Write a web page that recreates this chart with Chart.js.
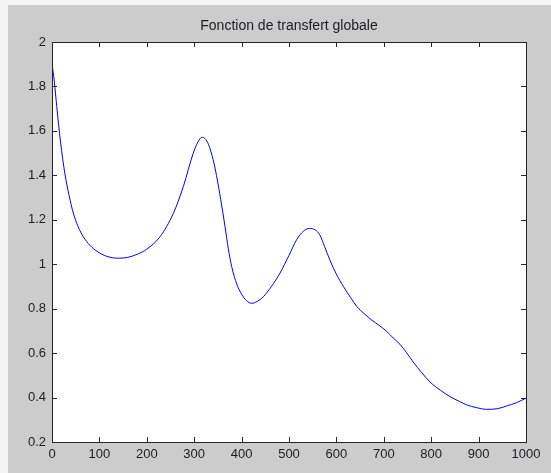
<!DOCTYPE html>
<html>
<head>
<meta charset="utf-8">
<script src="https://cdn.jsdelivr.net/npm/chart.js@4"></script>
<style>
  html, body { margin: 0; padding: 0; background: #cccccc; }
  #wrap { width: 551px; height: 473px; }
</style>
</head>
<body>
<div id="wrap"><canvas id="tf"></canvas></div>
<script>
// values
const freq = [0, 5, 10, 18, 27, 36, 45, 55, 66, 80, 95, 115, 140, 160, 180, 200, 228, 256, 277, 298,
  308, 316, 323, 330, 340, 347, 356, 365, 372, 379, 390, 400, 410, 421, 433, 446, 463, 481, 500, 516, 530,
  543, 555, 565, 575, 586, 600, 615, 630, 643, 660, 675, 690, 705, 720, 734, 748, 762, 780, 797, 820,
  840, 860, 875, 895, 917, 940, 959, 980, 1000];
const gain = [1.905, 1.82, 1.71, 1.55, 1.41, 1.31, 1.23, 1.17, 1.124, 1.085, 1.058, 1.036, 1.027, 1.031, 1.045, 1.068, 1.124, 1.229, 1.349, 1.5,
  1.55, 1.571, 1.565, 1.54, 1.47, 1.4, 1.29, 1.17, 1.07, 0.99, 0.91, 0.865, 0.837, 0.824, 0.833, 0.854, 0.9, 0.96, 1.04, 1.11, 1.148,
  1.161, 1.155, 1.132, 1.08, 1.02, 0.955, 0.899, 0.85, 0.81, 0.775, 0.748, 0.725, 0.7, 0.668, 0.64, 0.602, 0.56, 0.512, 0.471, 0.432,
  0.404, 0.382, 0.367, 0.355, 0.347, 0.35, 0.362, 0.377, 0.397];
const xTicks = [0, 100, 200, 300, 400, 500, 600, 700, 800, 900, 1000];
const yTicks = [0.2, 0.4, 0.6, 0.8, 1, 1.2, 1.4, 1.6, 1.8, 2];

const FONT = "'Liberation Sans', Arial, sans-serif";
const TXT = '#1c1c24';

// matlab-ish figure: gray frame, white axes box, ticks pointing inward
const figurePlugin = {
    id: 'figure',
    beforeDraw(chart) {
        const { ctx, chartArea: a } = chart;
        ctx.save();
        ctx.fillStyle = '#cccccc';
        ctx.fillRect(0, 0, chart.width, chart.height);
        ctx.fillStyle = '#f4f4f4';
        ctx.fillRect(0, 0, chart.width, 5);
        ctx.fillRect(0, 0, 8, chart.height);
        ctx.fillStyle = '#ffffff';
        ctx.fillRect(a.left, a.top, a.right - a.left, a.bottom - a.top);
        ctx.restore();
    },
    afterDraw(chart) {
        const { ctx, chartArea: a } = chart;
        const sx = chart.scales.x, sy = chart.scales.y;
        const len = 5;
        ctx.save();
        ctx.strokeStyle = '#262626';
        ctx.lineWidth = 1;
        ctx.beginPath();
        xTicks.forEach(v => {
            const px = Math.round(sx.getPixelForValue(v)) + 0.5;
            ctx.moveTo(px, a.bottom); ctx.lineTo(px, a.bottom - len);
            ctx.moveTo(px, a.top); ctx.lineTo(px, a.top + len);
        });
        yTicks.forEach(v => {
            const py = Math.round(sy.getPixelForValue(v)) + 0.5;
            ctx.moveTo(a.left, py); ctx.lineTo(a.left + len, py);
            ctx.moveTo(a.right, py); ctx.lineTo(a.right - len, py);
        });
        ctx.stroke();
        ctx.strokeRect(Math.round(a.left) + 0.5, Math.round(a.top) + 0.5,
            Math.round(a.right - a.left), Math.round(a.bottom - a.top));
        ctx.restore();
    }
};

document.addEventListener('DOMContentLoaded', () => {
    const ctx = document.getElementById('tf').getContext('2d');
    new Chart(ctx, {
        type: 'line',
        data: {
            datasets: [{
                data: freq.map((f, i) => ({ x: f, y: gain[i] })),
                borderColor: '#0000ff',
                borderWidth: 1,
                pointRadius: 0,
                fill: false,
                cubicInterpolationMode: 'monotone'
            }]
        },
        options: {
            responsive: true,
            maintainAspectRatio: false,
            animation: false,
            layout: { padding: { left: 0, right: 25, top: 0, bottom: 0 } },
            plugins: {
                legend: { display: false },
                tooltip: { enabled: false },
                title: {
                    display: true,
                    text: 'Fonction de transfert globale',
                    fullSize: false,
                    color: TXT,
                    font: { family: FONT, size: 14, weight: 'normal', lineHeight: 1.2 },
                    padding: { top: 17.6, bottom: 7.6 }
                }
            },
            scales: {
                x: {
                    type: 'linear',
                    min: 0, max: 1000,
                    afterBuildTicks: s => { s.ticks = xTicks.map(v => ({ value: v })); },
                    afterFit: s => { s.height = 31; },
                    grid: { display: false, drawTicks: false },
                    border: { display: false },
                    ticks: { color: TXT, padding: 5, maxRotation: 0, autoSkip: false,
                        font: { family: FONT, size: 13 }, callback: v => String(v) }
                },
                y: {
                    type: 'linear',
                    min: 0.2, max: 2,
                    afterBuildTicks: s => { s.ticks = yTicks.map(v => ({ value: v })); },
                    afterFit: s => { s.width = 52; },
                    grid: { display: false, drawTicks: false },
                    border: { display: false },
                    ticks: { color: TXT, padding: 6, autoSkip: false,
                        font: { family: FONT, size: 13 },
                        callback: v => String(Math.round(v * 10) / 10) }
                }
            }
        },
        plugins: [figurePlugin]
    });
});
</script>
</body>
</html>
